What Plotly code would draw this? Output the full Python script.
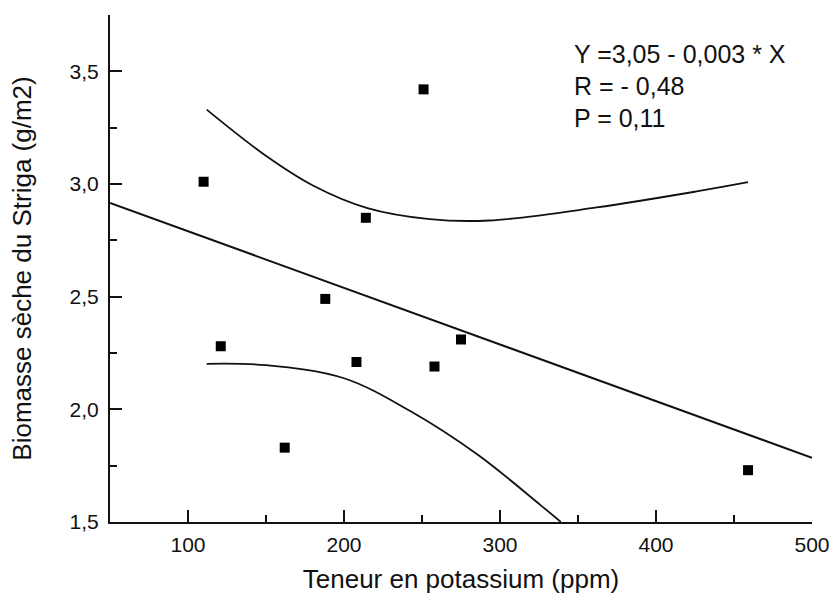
import plotly.graph_objects as go

# measured points: potassium (ppm) vs Striga dry biomass (g/m2)
potassium = [110, 121, 162, 188, 208, 214, 251, 258, 275, 459]
biomasse = [3.01, 2.28, 1.83, 2.49, 2.21, 2.85, 3.42, 2.19, 2.31, 1.73]

# regression line Y = 3,05 - 0,003 * X (ends)
reg_x = [50, 500]
reg_y = [2.916, 1.785]

# confidence curves
upper_x = [112, 149, 181, 215, 255, 293, 362, 426, 459]
upper_y = [3.33, 3.13, 2.99, 2.893, 2.844, 2.838, 2.896, 2.967, 3.008]
lower_x = [112, 150, 200, 243, 286, 326, 339]
lower_y = [2.202, 2.196, 2.138, 1.99, 1.797, 1.575, 1.5]

x_ticks = [100, 200, 300, 400, 500]
y_ticks = [1.5, 2.0, 2.5, 3.0, 3.5]
y_labels = ["1,5", "2,0", "2,5", "3,0", "3,5"]

stats_lines = ["Y =3,05 - 0,003 * X", "R = - 0,48", "P = 0,11"]

font = "Arial, Liberation Sans, sans-serif"
ink = "#111111"

fig = go.Figure()
fig.add_trace(go.Scatter(x=reg_x, y=reg_y, mode="lines",
                         line=dict(color=ink, width=2), showlegend=False))
fig.add_trace(go.Scatter(x=upper_x, y=upper_y, mode="lines", line_shape="spline",
                         line=dict(color=ink, width=1.8), showlegend=False))
fig.add_trace(go.Scatter(x=lower_x, y=lower_y, mode="lines", line_shape="spline",
                         line=dict(color=ink, width=1.8), showlegend=False))
fig.add_trace(go.Scatter(x=potassium, y=biomasse, mode="markers",
                         marker=dict(symbol="square", size=10, color="black"),
                         showlegend=False))

# stats text, one line each
for i, txt in enumerate(stats_lines):
    fig.add_annotation(text=txt, xref="paper", yref="paper", x=0.658, y=0.924 - i * 0.0635,
                       xanchor="left", yanchor="middle", showarrow=False,
                       font=dict(family=font, size=25, color=ink))

fig.update_xaxes(range=[50, 500], tickvals=x_ticks, ticks="inside", ticklen=12,
                 tickwidth=2, tickcolor=ink, showline=True, linecolor=ink, linewidth=2,
                 showgrid=False, zeroline=False, ticklabelstandoff=3,
                 minor=dict(tickvals=[150, 250, 350, 450], ticks="inside", ticklen=7,
                            tickwidth=2, tickcolor=ink, showgrid=False),
                 tickfont=dict(family=font, size=21, color=ink),
                 title=dict(text="Teneur en potassium (ppm)", standoff=15,
                            font=dict(family=font, size=26, color=ink)))
fig.update_yaxes(range=[1.5, 3.75], tickvals=y_ticks, ticktext=y_labels, ticks="inside",
                 ticklen=12, tickwidth=2, tickcolor=ink, showline=True, linecolor=ink,
                 linewidth=2, showgrid=False, zeroline=False, ticklabelstandoff=5,
                 minor=dict(tickvals=[1.75, 2.25, 2.75, 3.25, 3.75], ticks="inside",
                            ticklen=7, tickwidth=2, tickcolor=ink, showgrid=False),
                 tickfont=dict(family=font, size=21, color=ink),
                 title=dict(text="Biomasse sèche du Striga (g/m2)", standoff=30,
                            font=dict(family=font, size=26, color=ink)))

fig.update_layout(width=835, height=595, plot_bgcolor="white", paper_bgcolor="white",
                  margin=dict(l=110, r=23, t=15, b=73, autoexpand=False))

# drop the page's default body margin so the figure sits at 0,0
fig.write_html("out.html", config={"displayModeBar": False},
               post_script="document.body.style.margin='0';")
